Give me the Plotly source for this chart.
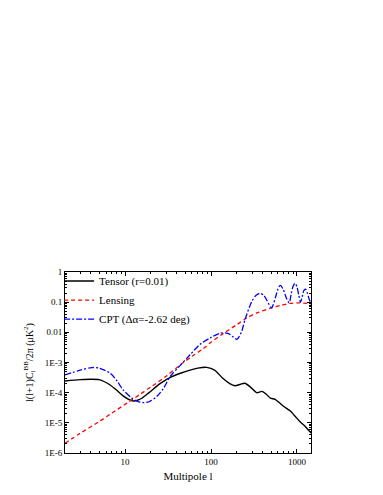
import plotly.graph_objects as go

# multipole values and D_l^BB (uK^2)
tensor_l = [2, 3, 4, 5, 6.7, 8, 9.5, 11, 12.5, 14, 16, 19, 25.5, 35, 44, 57, 70, 89, 110, 137, 165,
            190, 220, 248, 290, 340, 390, 440, 490, 555, 620, 690, 760, 830, 950, 1080, 1250, 1410, 1500]
tensor_cl = [2.45e-4, 2.7e-4, 2.8e-4, 2.7e-4, 1.8e-4, 1.2e-4, 7.8e-5, 6.0e-5, 5.3e-5, 5.6e-5, 6.8e-5,
             1.0e-4, 2.0e-4, 3.4e-4, 4.4e-4, 5.6e-4, 6.5e-4, 6.9e-4, 5.6e-4, 3.0e-4, 2.0e-4,
             1.7e-4, 1.9e-4, 2.05e-4, 1.5e-4, 1.0e-4, 1.1e-4, 8.9e-5, 6.6e-5, 6.0e-5, 4.7e-5,
             3.6e-5, 3.0e-5, 2.5e-5, 1.66e-5, 1.1e-5, 7.6e-6, 5.1e-6, 4.5e-6]

lensing_l = [2, 3, 5, 7, 10.5, 15, 20, 30, 43.6, 60, 80, 100, 140, 200, 260, 350, 490, 650,
             830, 1000, 1200, 1500]
lensing_cl = [2.1e-6, 4.5e-6, 1.1e-5, 2.1e-5, 4.5e-5, 8.9e-5, 1.55e-4, 3.5e-4, 8.3e-4, 1.6e-3,
              2.8e-3, 4.7e-3, 9.3e-3, 0.018, 0.030, 0.045, 0.063, 0.079, 0.091, 0.095, 0.093, 0.087]

cpt_l = [2, 3, 4.1, 5, 6.7, 8, 9.5, 12, 14, 16.3, 19, 23.3, 28, 33.4, 43.6, 57, 74.5, 100, 127,
         157, 180, 200, 225, 250, 300, 335, 370, 410, 450, 505, 560, 600, 640, 690, 750, 810, 860,
         905, 950, 1000, 1050, 1100, 1160, 1210, 1260, 1320, 1380, 1440, 1500]
cpt_cl = [3.9e-4, 5.6e-4, 6.8e-4, 6.5e-4, 4.4e-4, 2.5e-4, 1.23e-4, 6.6e-5, 5.1e-5, 4.7e-5,
          5.0e-5, 7.4e-5, 1.4e-4, 3.4e-4, 7.9e-4, 1.8e-3, 4.0e-3, 6.8e-3, 9.3e-3, 9.3e-3, 7.1e-3,
          5.9e-3, 0.010, 0.028, 0.11, 0.17, 0.195, 0.17, 0.11, 0.065, 0.14, 0.27, 0.36, 0.27,
          0.14, 0.095, 0.2, 0.35, 0.42, 0.32, 0.17, 0.10, 0.17, 0.25, 0.27, 0.2, 0.13, 0.1, 0.09]

x_ticks = [10, 100, 1000]
x_ticktext = ["10", "100", "1000"]
y_ticks = [1e-6, 1e-5, 1e-4, 1e-3, 0.01, 0.1, 1]
y_ticktext = ["1E-6", "1E-5", "1E-4", "1E-3", "0.01", "0.1", "1"]

minor_x = [m * 10 ** d for d in range(0, 4) for m in range(2, 10)]
minor_y = [m * 10.0 ** d for d in range(-6, 0) for m in range(2, 10)]

serif = "Liberation Serif"

fig = go.Figure()
fig.add_trace(go.Scatter(x=tensor_l, y=tensor_cl, mode="lines", name="Tensor (r=0.01)",
                         line=dict(color="black", width=1.4, shape="spline", smoothing=0.7)))
fig.add_trace(go.Scatter(x=lensing_l, y=lensing_cl, mode="lines", name="Lensing",
                         line=dict(color="red", width=1.3, dash="4px,3px", shape="spline", smoothing=0.8)))
fig.add_trace(go.Scatter(x=cpt_l, y=cpt_cl, mode="lines", name="CPT (Δα=-2.62 deg)",
                         line=dict(color="blue", width=1.3, dash="6px,2px,2px,2px",
                                   shape="spline", smoothing=0.8)))

axis_common = dict(showgrid=False, zeroline=False, showline=True, linecolor="black", linewidth=1,
                   mirror="ticks", ticks="inside", ticklen=4, tickcolor="black",
                   tickfont=dict(family=serif, size=9, color="black"))

fig.update_xaxes(type="log", range=[0.301, 3.163], tickvals=x_ticks, ticktext=x_ticktext,
                 minor=dict(tickvals=minor_x, ticks="inside", ticklen=2, tickcolor="black"),
                 title=dict(text="Multipole l", font=dict(family=serif, size=11, color="black"),
                            standoff=6),
                 **axis_common)
fig.update_yaxes(type="log", range=[-6, 0], tickvals=y_ticks, ticktext=y_ticktext,
                 minor=dict(tickvals=minor_y, ticks="inside", ticklen=2, tickcolor="black"),
                 title=dict(text="l(l+1)C<sub>l</sub><sup>BB</sup>/2π (μK<sup>2</sup>)",
                            font=dict(family=serif, size=10, color="black"), standoff=9),
                 **axis_common)

# page body adds an 8px margin, so the figure is drawn 8px in from the top-left corner
fig.update_layout(
    width=367, height=479,
    margin=dict(l=57, r=64, t=264, b=34, autoexpand=False),
    paper_bgcolor="white", plot_bgcolor="white",
    showlegend=True,
    legend=dict(x=-0.024, y=1.03, xanchor="left", yanchor="top", bgcolor="rgba(0,0,0,0)",
                font=dict(family=serif, size=11, color="black"),
                tracegroupgap=0, itemwidth=30),
)

fig.write_html("out.html")
